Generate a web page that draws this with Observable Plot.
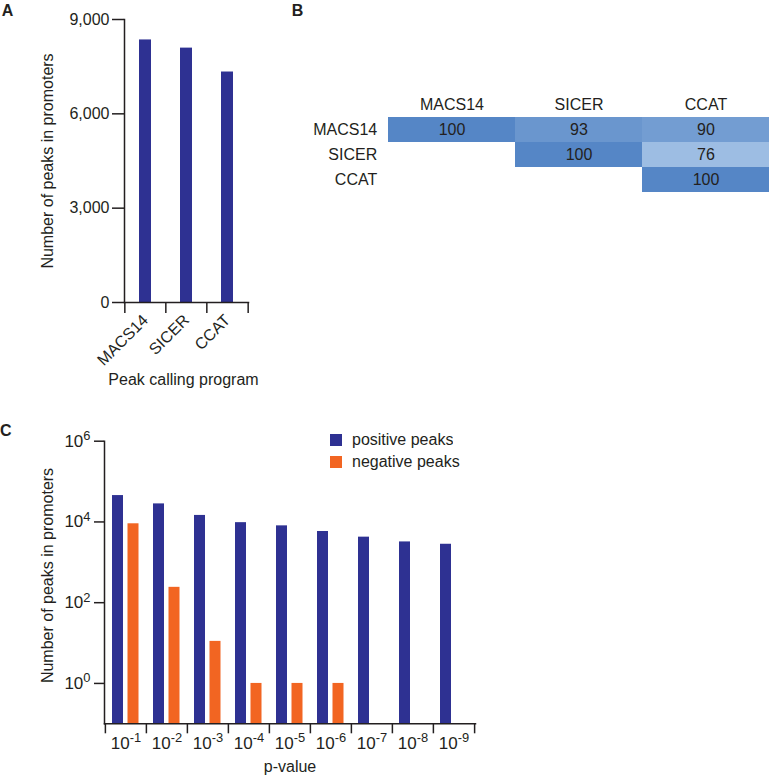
<!DOCTYPE html>
<html><head><meta charset="utf-8">
<script src="https://cdn.jsdelivr.net/npm/d3@7"></script>
<script src="https://cdn.jsdelivr.net/npm/@observablehq/plot@0.6"></script>
<style>
body{margin:0;background:#fff;}
#fig{position:relative;width:770px;height:778px;font-family:"Liberation Sans",Arial,sans-serif;color:#231f20;overflow:hidden;background:#fff}
#fig svg{position:absolute}
.letter{position:absolute;font-weight:bold;font-size:16px;line-height:16px;font-family:"Liberation Sans",Arial,sans-serif;color:#231f20}
#legendC{position:absolute;left:330px;top:429px}
#legendC svg{position:static}
#legendC .legC-swatch{height:22px;padding:0 !important;display:flex;align-items:center}
#legendC .legC-swatch > svg{margin-right:10px !important}
#legendC .legC-swatch-label{font-size:16px;color:#231f20;font-family:"Liberation Sans",Arial,sans-serif}
</style></head><body><div id="fig"></div><script>
// ---- data ----
const programs = ["MACS14", "SICER", "CCAT"];
const peaksInPromoters = [8350, 8090, 7330];
const yTicksA = [0, 3000, 6000, 9000];

const overlapRowMACS14 = [100, 93, 90];
const overlapRowSICER = [null, 100, 76];
const overlapRowCCAT = [null, null, 100];

const pValueLabels = ["10^-1", "10^-2", "10^-3", "10^-4", "10^-5", "10^-6", "10^-7", "10^-8", "10^-9"];
const positivePeaks = [45000, 28000, 14500, 9600, 8000, 5800, 4200, 3200, 2800];
const negativePeaks = [9000, 240, 11, 1, 1, 1, 0, 0, 0];
const seriesNames = ["positive peaks", "negative peaks"];
const seriesColors = ["#2e3192", "#f26522"];
const yTicksC = [1, 1e2, 1e4, 1e6];
const yMinC = 0.1;

// ---- styles ----
const ink = "#231f20";
const font = "Liberation Sans, Arial, sans-serif";
const fig = document.getElementById("fig");
const baseStyle = {fontFamily: font, fontSize: "16px", color: ink, background: "transparent", overflow: "visible"};

function superscript(svg) {
  svg.querySelectorAll("text").forEach(t => {
    const m = /^10\^(-?\d+)$/.exec(t.textContent);
    if (!m) return;
    t.textContent = "10";
    const ts = document.createElementNS("http://www.w3.org/2000/svg", "tspan");
    ts.setAttribute("dy", "-0.5em");
    ts.setAttribute("font-size", "0.76em");
    ts.textContent = m[1];
    t.appendChild(ts);
  });
}

// boundary tick marks for a band axis (ticks between categories, not at centres)
function bandBoundaryTicks(domain, step, size) {
  return [
    Plot.axisX({fill: "none", label: null, tickSize: size, dx: -step / 2, strokeWidth: 1.5}),
    Plot.axisX({ticks: [domain[domain.length - 1]], fill: "none", label: null, tickSize: size, dx: step / 2, strokeWidth: 1.5})
  ];
}

// ---- Panel A ----
const A = {width: 260, height: 400, ml: 124, mr: 12, mt: 19, mb: 98};
const stepA = (A.width - A.ml - A.mr) / programs.length;
const dataA = programs.map((p, i) => ({program: p, peaks: peaksInPromoters[i]}));
const plotA = Plot.plot({
  width: A.width, height: A.height,
  marginLeft: A.ml, marginRight: A.mr, marginTop: A.mt, marginBottom: A.mb,
  style: baseStyle,
  x: {domain: programs, paddingInner: 0.71, paddingOuter: 0.355, label: null},
  y: {domain: [0, 9000], label: null},
  marks: [
    Plot.barY(dataA, {x: "program", y: "peaks", fill: seriesColors[0]}),
    Plot.frame({anchor: "left", strokeWidth: 1.5}),
    Plot.frame({anchor: "bottom", strokeWidth: 1.5}),
    Plot.axisY({ticks: yTicksA, tickSize: 12, tickPadding: 3, strokeWidth: 1.5, label: null, fontSize: 16}),
    ...bandBoundaryTicks(programs, stepA, 11),
    Plot.axisX({tickSize: 0, tickRotate: -45, tickPadding: 15, label: null, fontSize: 16}),
    Plot.text(["Number of peaks in promoters"], {frameAnchor: "left", textAnchor: "middle", lineAnchor: "middle", dx: -77, rotate: -90, fontSize: 16}),
    Plot.text(["Peak calling program"], {frameAnchor: "bottom", textAnchor: "middle", lineAnchor: "middle", dy: 77, dx: -3, fontSize: 16})
  ]
});
plotA.style.left = "0px"; plotA.style.top = "0px";
fig.appendChild(plotA);

// ---- Panel B ----
const overlapRows = [overlapRowMACS14, overlapRowSICER, overlapRowCCAT];
const cells = programs.flatMap((r, i) => programs.map((c, j) => ({row: r, col: c, v: overlapRows[i][j]}))).filter(d => d.v != null);
const plotB = Plot.plot({
  width: 510, height: 200,
  marginLeft: 126.7, marginRight: 0, marginTop: 115.7, marginBottom: 7,
  style: baseStyle,
  x: {domain: programs, padding: 0, label: null},
  y: {domain: programs, padding: 0, label: null},
  color: {type: "linear", domain: [76, 100], range: ["#9dbde3", "#5586c6"]},
  marks: [
    Plot.cell(cells, {x: "col", y: "row", fill: "v"}),
    Plot.text(cells, {x: "col", y: "row", text: "v", fill: ink, fontSize: 16}),
    Plot.axisX({anchor: "top", tickSize: 0, tickPadding: 6, label: null, fontSize: 16}),
    Plot.axisY({anchor: "left", tickSize: 0, tickPadding: 10, label: null, fontSize: 16})
  ]
});
plotB.style.left = "260px"; plotB.style.top = "0px";
fig.appendChild(plotB);

// ---- Panel C ----
const C = {width: 770, height: 358, ml: 104, mr: 295, mt: 20.7, mb: 54.7};
const stepC = (C.width - C.ml - C.mr) / pValueLabels.length;
const dataC = pValueLabels.flatMap((p, i) => [
  {p, series: seriesNames[0], n: positivePeaks[i]},
  {p, series: seriesNames[1], n: negativePeaks[i]}
]).filter(d => d.n > 0);
const plotC = Plot.plot({
  width: C.width, height: C.height,
  marginLeft: C.ml, marginRight: C.mr, marginTop: C.mt, marginBottom: C.mb,
  style: baseStyle,
  x: {domain: pValueLabels, padding: 0, label: null},
  y: {type: "log", domain: [yMinC, 1e6], label: null},
  color: {domain: seriesNames, range: seriesColors},
  marks: [
    Plot.barY(dataC.filter(d => d.series === seriesNames[0]), {x: "p", y1: yMinC, y2: "n", fill: "series", insetLeft: 7, insetRight: 23}),
    Plot.barY(dataC.filter(d => d.series === seriesNames[1]), {x: "p", y1: yMinC, y2: "n", fill: "series", insetLeft: 22.5, insetRight: 7.5}),
    Plot.frame({anchor: "left", strokeWidth: 1.5}),
    Plot.frame({anchor: "bottom", strokeWidth: 1.5}),
    Plot.axisY({ticks: yTicksC, tickSize: 10, tickPadding: 4, strokeWidth: 1.5, label: null, fontSize: 17,
      tickFormat: d => "10^" + Math.round(Math.log10(d))}),
    ...bandBoundaryTicks(pValueLabels, stepC, 10),
    Plot.axisX({tickSize: 0, tickPadding: 13, label: null, fontSize: 17}),
    Plot.text(["Number of peaks in promoters"], {frameAnchor: "left", textAnchor: "middle", lineAnchor: "middle", dx: -57, dy: -7, rotate: -90, fontSize: 16}),
    Plot.text(["p-value"], {frameAnchor: "bottom", textAnchor: "middle", lineAnchor: "middle", dy: 43, fontSize: 16})
  ]
});
superscript(plotC);
plotC.style.left = "0px"; plotC.style.top = "420px";
fig.appendChild(plotC);

const legend = plotC.legend("color", {legend: "swatches", columns: 1, swatchSize: 12, className: "legC"});
const legWrap = document.createElement("div");
legWrap.id = "legendC";
legWrap.appendChild(legend);
fig.appendChild(legWrap);

// ---- panel letters ----
[["A", 1.7, 3.2], ["B", 291.7, 3.2], ["C", 0, 422.5]].forEach(([t, x, y]) => {
  const d = document.createElement("div");
  d.className = "letter";
  d.textContent = t;
  d.style.left = x + "px"; d.style.top = y + "px";
  fig.appendChild(d);
});
</script></body></html>
